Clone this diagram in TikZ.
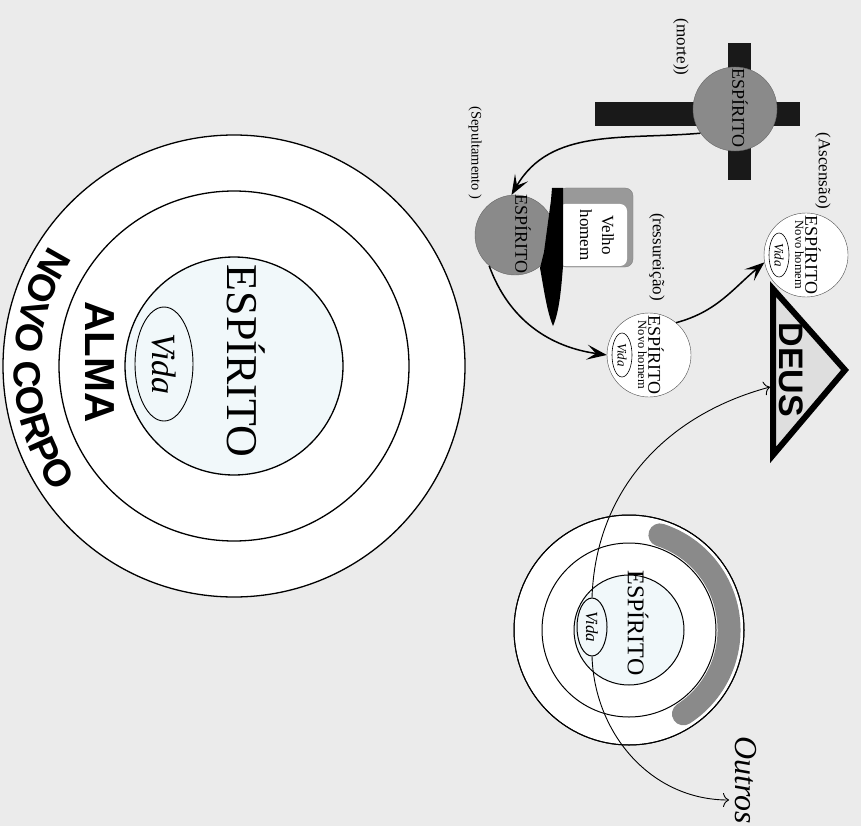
\documentclass[tikz,border=0pt]{standalone}
\usepackage{fontspec}
\setmainfont{Liberation Serif}
\setsansfont{Liberation Sans}
\usetikzlibrary{arrows.meta,shapes.geometric,decorations.text}

\definecolor{fundo}{RGB}{235,235,235}
\definecolor{espirito}{RGB}{241,248,250}
\definecolor{cinza}{RGB}{138,138,138}
\definecolor{deusfill}{RGB}{222,222,222}

\tikzset{
    girado/.style={rotate=-90, inner sep=0pt},
    oval/.style={ellipse, draw, rotate=-90, inner sep=0pt},
    seta/.style={line width=1.5pt, -{Stealth[length=20pt,width=15pt,inset=9pt]}},
    setafina/.style={line width=0.9pt, -{To[length=6pt,width=14pt]}},
}

\newcommand{\NovoHomem}[3]{
    \node[circle, draw=black!70, fill=white, minimum size=84pt, inner sep=0pt] (#1) at (#2,#3) {};
    \node[girado, font=\fontsize{18}{18}\selectfont] (#1-esp) at ([xshift=7pt]#1.center) {ESPÍRITO};
    \node[girado, font=\fontsize{12.5}{12.5}\selectfont] (#1-novo) at ([xshift=-6.5pt]#1.center) {Novo homem};
    \node[oval, line width=0.6pt, minimum width=44pt, minimum height=20pt, font=\itshape\fontsize{13}{13}\selectfont] (#1-vida) at ([xshift=-27pt]#1.center) {Vida};
}

\begin{document}
\begin{tikzpicture}[x=1pt, y=1pt]
    \useasboundingbox (0,0) rectangle (861,-826);
    \fill[fundo] (0,0) rectangle (861,-826);

    % alma e corpo
    \draw[line width=1.3pt, fill=white] (234,-366) circle[radius=231];
    \draw[line width=1.3pt, fill=white] (234,-366) circle[radius=175];
    \draw[line width=1.3pt, fill=espirito] (234,-366) circle[radius=109];
    \node[girado, font=\fontsize{44}{44}\selectfont] (espirito) at (246,-361) {ESPÍRITO};
    \node[oval, line width=0.9pt, minimum width=114pt, minimum height=58pt, font=\itshape\fontsize{34}{34}\selectfont] (vida) at (164,-364) {Vida};
    \node[girado, font=\sffamily\bfseries\fontsize{42}{42}\selectfont] (alma) at (100,-362) {ALMA};
    \path[decorate, decoration={text along path, text align=center,
        text={|\sffamily\bfseries\fontsize{38}{38}\selectfont|NOVO CORPO}}]
        (234,-366) ++(140:220) arc[start angle=140, end angle=222, radius=220];

    % cruz
    \fill[black!90] (595,-102) rectangle (800,-126);
    \fill[black!90] (728,-43) rectangle (751,-180);
    \node[circle, draw=black!60, fill=cinza, minimum size=84pt, inner sep=0pt] (cruz) at (735,-109) {};
    \node[girado, font=\fontsize{18}{18}\selectfont] (cruz-esp) at (740,-108) {ESPÍRITO};
    \node[girado, font=\fontsize{17}{17}\selectfont] (morte) at (681,-47) {(morte))};

    % sepultamento
    \node[circle, draw=black!60, fill=cinza, minimum size=80pt, inner sep=0pt] (sepul) at (515,-235) {};
    \node[girado, font=\fontsize{18}{18}\selectfont] (sepul-esp) at (523,-234) {ESPÍRITO};
    \node[girado, font=\fontsize{14.5}{14.5}\selectfont] (sepultamento) at (475,-153) {(Sepultamento )};
    \fill[black!40, rounded corners=8pt] (558,-188) rectangle (633,-267);
    \fill[white, rounded corners=7pt] (558,-204) rectangle (627,-266);
    \draw[black!50, rounded corners=8pt] (558,-188) rectangle (633,-267);
    \fill[black] (552,-188) -- (563,-188) -- (563,-266) .. controls (561,-292) and (559,-312) .. (553,-326)
        .. controls (547,-312) and (544,-290) .. (540,-268) -- (544,-252) -- (551,-200) -- cycle;
    \node[girado, align=center, font=\fontsize{17}{22}\selectfont] (velho) at (597,-235) {Velho\\homem};

    % ressureicao e ascensao
    \NovoHomem{ress}{649}{-355}
    \NovoHomem{asc}{806}{-255}
    \node[girado, font=\fontsize{17}{17}\selectfont] (ressureicao) at (657,-257) {(ressureição)};
    \node[girado, font=\fontsize{17}{17}\selectfont] (ascensao) at (823,-171) {(Ascensão)};

    % deus
    \draw[line width=6pt, fill=deusfill, line join=miter] (773,-289) -- (845,-370) -- (773,-455) -- cycle;
    \node[girado, font=\sffamily\bfseries\fontsize{34}{34}\selectfont] (deus) at (791,-370) {DEUS};
    \coordinate (deus-in) at (770,-387);

    % novo homem com os outros
    \draw[line width=1pt, fill=white] (629,-630) circle[radius=115];
    \draw[line width=23pt, cinza, line cap=round] (629,-630) ++(72:100) arc[start angle=72, end angle=-57, radius=100];
    \draw[line width=1pt] (629,-630) circle[radius=115];
    \draw[line width=1pt, fill=white] (629,-630) circle[radius=87];
    \draw[line width=1pt, fill=espirito] (629,-630) circle[radius=55];
    \node[girado, font=\fontsize{24}{24}\selectfont] (espirito2) at (638,-623) {ESPÍRITO};
    \node[oval, line width=1pt, minimum width=58pt, minimum height=30pt, font=\itshape\fontsize{17}{17}\selectfont] (vida2) at (592,-627) {Vida};
    \node[girado, font=\itshape\fontsize{32}{32}\selectfont] (outros) at (746,-780) {Outros};

    \draw[seta] (cruz.215) to[out=185, in=60] (sepul.95);
    \draw[seta] (sepul.230) to[out=-70, in=172] (ress.west);
    \draw[seta] (ress.50) to[out=15, in=220] (asc.190);
    \draw[setafina] (vida2.west) to[out=88, in=195] (deus-in);
    \draw[setafina] (vida2.east) to[out=-88, in=180] ([xshift=-6pt, yshift=-20pt]outros.south);
\end{tikzpicture}
\end{document}
